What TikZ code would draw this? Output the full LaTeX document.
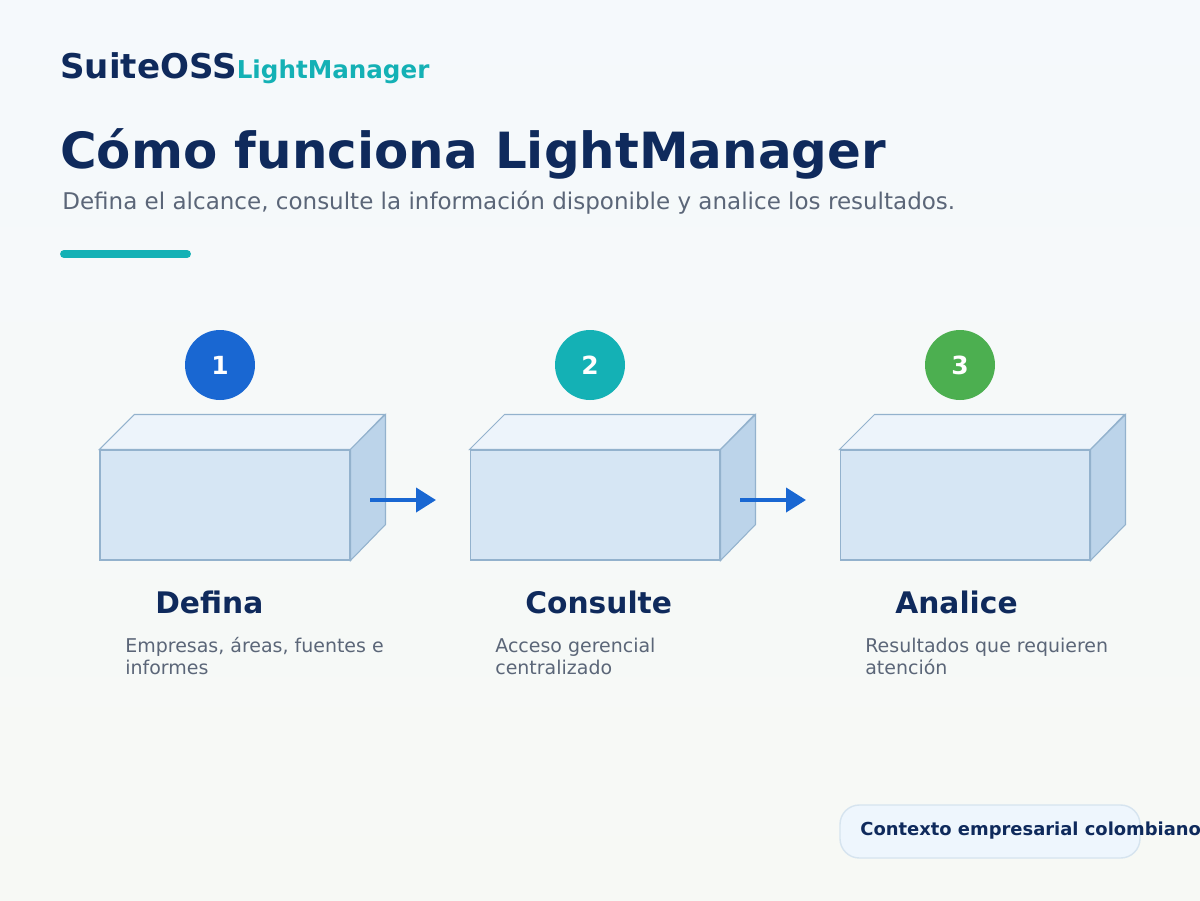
\documentclass[tikz,border=0pt]{standalone}
\usepackage{fontspec}
\setmainfont{DejaVu Sans}
\usetikzlibrary{arrows.meta,calc}

\definecolor{navy}{HTML}{0F2A5C}
\definecolor{slate}{HTML}{5B6678}
\definecolor{tealc}{HTML}{14B1B5}
\definecolor{bluec}{HTML}{1967D2}
\definecolor{greenc}{HTML}{4CAF50}
\definecolor{frontc}{HTML}{D6E6F4}
\definecolor{topc}{HTML}{EDF4FB}
\definecolor{sidec}{HTML}{BCD4EA}
\definecolor{edgec}{HTML}{93B2CD}
\definecolor{bgtop}{HTML}{F5F9FC}
\definecolor{bgbot}{HTML}{F7F9F5}
\definecolor{badgefill}{HTML}{EEF6FD}
\definecolor{badgeline}{HTML}{D6E4EF}

\tikzset{
  num/.style={circle,inner sep=0pt,minimum size=1.4cm,text=white,font=\fontsize{14.2}{16}\selectfont\bfseries},
  face/.style={draw=edgec,line width=0.6pt},
  front/.style={face,fill=frontc,rectangle,minimum width=5cm,minimum height=2.2cm,inner sep=0pt},
  head/.style={anchor=base west,inner sep=0pt,text=navy,font=\fontsize{16.9}{19}\selectfont\bfseries},
  desc/.style={anchor=base west,inner sep=0pt,text=slate,align=left,font=\fontsize{10.8}{12.5}\selectfont},
  flow/.style={bluec,line width=2.3pt,-{Triangle[length=0.4cm,width=0.48cm]}}
}

\begin{document}
\begin{tikzpicture}[x=0.02cm,y=-0.02cm]
  \fill[top color=bgtop,bottom color=bgbot] (0,0) rectangle (1200,900);
  \useasboundingbox (0,0) rectangle (1200,900);

  % header
  \node[anchor=base west,inner sep=0pt,text=navy] (brand) at (60,78)
    {\fontsize{19.4}{22}\selectfont\bfseries SuiteOSS{\color{tealc}\fontsize{14}{16}\selectfont LightManager}};
  \node[anchor=base west,inner sep=0pt,text=navy,font=\fontsize{28.4}{32}\selectfont\bfseries] (title) at (60,168) {Cómo funciona LightManager};
  \node[anchor=base west,inner sep=0pt,text=slate,font=\fontsize{13.1}{15}\selectfont] (sub) at (62,209)
    {Defina el alcance, consulte la información disponible y analice los resultados.};
  \draw[tealc,line width=4.5pt,line cap=round] (64,254) -- (187,254);

  % steps
  \foreach \i/\x/\c/\h/\a/\b in {1/100/bluec/Defina/{Empresas, áreas, fuentes e}/informes,
                                 2/470/tealc/Consulte/Acceso gerencial/centralizado,
                                 3/840/greenc/Analice/Resultados que requieren/atención}{
    \node[front] (box\i) at (\x+125,505) {};
    \fill[topc,draw=edgec,line width=0.6pt] (box\i.north west) -- ++(35,-35) -- ++(250,0) -- (box\i.north east) -- cycle;
    \fill[sidec,draw=edgec,line width=0.6pt] (box\i.north east) -- ++(35,-35) -- ++(0,110) -- (box\i.south east) -- cycle;
    \node[num,fill=\c] (n\i) at (\x+120,365) {\i};
    \node[head] (h\i) at (\x+55,613) {\h};
    \node[desc] (d\i) at (\x+25,674) {\a\\\b};
  }

  \coordinate (a1s) at (370,500);
  \coordinate (a1e) at (436,500);
  \coordinate (a2s) at (740,500);
  \coordinate (a2e) at (806,500);
  \draw[flow] (a1s) -- (a1e);
  \draw[flow] (a2s) -- (a2e);

  % badge
  \draw[fill=badgefill,draw=badgeline,line width=0.8pt,rounded corners=11pt] (840,805) rectangle (1140,858);
  \node[anchor=base west,inner sep=0pt,text=navy,font=\fontsize{10.2}{12}\selectfont\bfseries] (badge) at (860,835) {Contexto empresarial colombiano};
\end{tikzpicture}
\end{document}
